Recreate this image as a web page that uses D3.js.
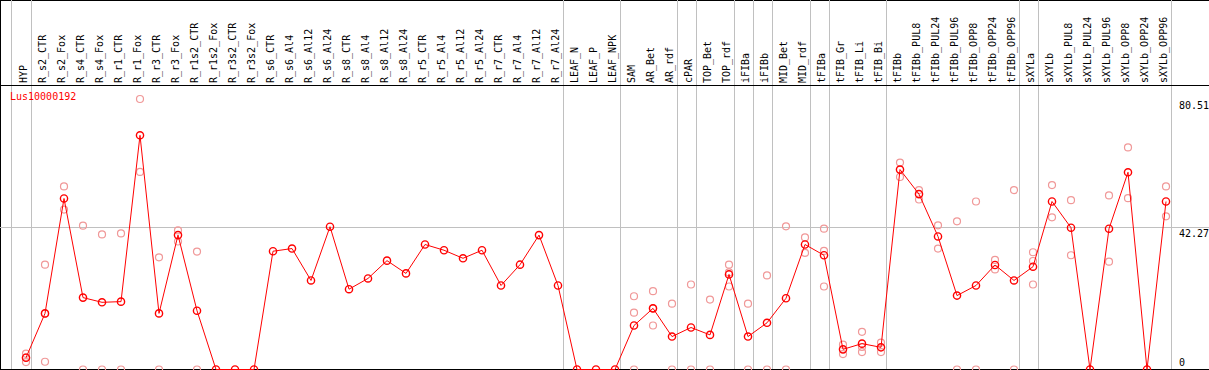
<!DOCTYPE html>
<html><head><meta charset="utf-8">
<script src="https://cdn.jsdelivr.net/npm/d3@7/dist/d3.min.js"></script>
<style>body{margin:0;background:#fff}svg{display:block}</style>
</head><body>
<script>
const categories = ["HYP","R_s2_CTR","R_s2_Fox","R_s4_CTR","R_s4_Fox","R_r1_CTR","R_r1_Fox","R_r3_CTR","R_r3_Fox","R_r1s2_CTR","R_r1s2_Fox","R_r3s2_CTR","R_r3s2_Fox","R_s6_CTR","R_s6_Al4","R_s6_Al12","R_s6_Al24","R_s8_CTR","R_s8_Al4","R_s8_Al12","R_s8_Al24","R_r5_CTR","R_r5_Al4","R_r5_Al12","R_r5_Al24","R_r7_CTR","R_r7_Al4","R_r7_Al12","R_r7_Al24","LEAF_N","LEAF_P","LEAF_NPK","SAM","AR_Bet","AR_rdf","cPAR","TOP_Bet","TOP_rdf","iFIBa","iFIBb","MID_Bet","MID_rdf","tFIBa","tFIB_Gr","tFIB_Li","tFIB_Bi","tFIBb","tFIBb_PUL8","tFIBb_PUL24","tFIBb_PUL96","tFIBb_OPP8","tFIBb_OPP24","tFIBb_OPP96","sXYLa","sXYLb","sXYLb_PUL8","sXYLb_PUL24","sXYLb_PUL96","sXYLb_OPP8","sXYLb_OPP24","sXYLb_OPP96"];
// group index per category (separators drawn between groups)
const groups = [0,1,1,1,1,1,1,1,1,1,1,1,1,1,1,1,1,1,1,1,1,1,1,1,1,1,1,1,1,2,2,2,3,3,3,4,5,5,6,7,8,8,9,10,10,10,11,11,11,11,11,11,11,12,13,13,13,13,13,13,13];
const means = [3.5,16.7,50.9,21.4,20.0,20.2,69.7,16.7,40.0,17.5,0,0,0,35.2,36.0,26.5,42.5,23.9,27.1,32.4,28.6,37.2,35.5,33.1,35.5,25.0,31.2,40.0,25.0,0,0,0,13.1,18.2,9.8,12.5,10.3,28.3,9.8,13.9,21.2,37.2,34.0,6.0,7.7,6.6,59.5,52.2,39.6,22.0,25.0,31.1,26.5,30.6,50.0,42.2,0,41.9,58.7,0,50.0];
const rep1 = [4.7,31.2,54.5,42.8,40.2,40.5,80.51,33.4,41.4,35.1,null,null,null,null,null,null,null,null,null,null,null,null,null,null,null,null,null,null,null,null,null,null,21.8,23.3,19.6,25.3,20.8,31.2,19.6,28.0,42.6,39.3,41.9,7.4,11.2,8.0,61.6,53.4,42.9,44.1,50.0,32.6,53.4,34.9,54.9,50.4,null,51.8,66.1,null,54.5];
const rep2 = [3.6,16.6,47.6,0,0,0,58.8,0,38.1,0,null,null,null,null,null,null,null,null,null,null,null,null,null,null,null,null,null,null,null,null,null,null,16.9,18.2,0,0,0,28.9,0,0,0,34.7,35.3,4.6,6.7,5.2,57.3,50.6,36.0,0,0,29.8,0,32.3,45.3,34.0,null,32.1,51.0,null,45.6];
const rep3 = [2.2,2.3,null,null,null,null,null,null,null,null,null,null,null,null,null,null,null,null,null,null,null,null,null,null,null,null,null,null,null,null,null,null,0,13.1,null,null,null,24.7,null,null,null,null,24.7,null,5.2,null,null,null,null,null,null,null,null,25.3,null,null,null,null,null,null,null];
const tickValues = [80.51, 42.27, 0];
const geneName = "Lus10000192";

const W = 1209, H = 370;
const svg = d3.select("body").append("svg").attr("width", W).attr("height", H);
const font = "'DejaVu Sans Mono', monospace";

const x = d3.scalePoint().domain(categories).range([26, 1166]);
const y = d3.scaleLinear().domain([0, 80.51]).range([369.5, 99]);

// frame
svg.append("line").attr("x1",0).attr("x2",W).attr("y1",0.5).attr("y2",0.5).attr("stroke","#000");
svg.append("line").attr("x1",0.5).attr("x2",0.5).attr("y1",0).attr("y2",H).attr("stroke","#000");

// horizontal gray reference line
svg.append("line").attr("x1",0).attr("x2",W).attr("y1",Math.round(y(42.27))+0.5).attr("y2",Math.round(y(42.27))+0.5).attr("stroke","#c0c0c0");

// vertical group separators
const sepX = [x(categories[0]) - 15.5];
categories.forEach((c,i)=>{ if (i===categories.length-1 || groups[i]!==groups[i+1]) sepX.push(x(c)+4.7); });
svg.selectAll("line.sep").data(sepX).enter().append("line").attr("class","sep")
  .attr("x1",d=>Math.round(d)+0.5).attr("x2",d=>Math.round(d)+0.5).attr("y1",0).attr("y2",H)
  .attr("stroke","#c0c0c0");

// header bottom line
svg.append("line").attr("x1",0).attr("x2",W).attr("y1",85.5).attr("y2",85.5).attr("stroke","#000");
// bottom line
svg.append("line").attr("x1",0).attr("x2",W).attr("y1",369.5).attr("y2",369.5).attr("stroke","#000");

// header labels
svg.selectAll("text.cat").data(categories).enter().append("text").attr("class","cat")
  .attr("transform",d=>`translate(${x(d)+1},83) rotate(-90)`)
  .attr("font-family",font).attr("font-size",10).attr("fill","#000").text(d=>d);

// gene name
svg.append("text").attr("x",10).attr("y",100).attr("font-family",font).attr("font-size",10)
  .attr("fill","#ff0000").text(geneName);

// right tick labels
svg.selectAll("text.tick").data(tickValues).enter().append("text").attr("class","tick")
  .attr("x",1179).attr("y",d=>Math.min(y(d)+10, H-4))
  .attr("font-family",font).attr("font-size",10).attr("fill","#000").text(d=>d);

// replicates
const reps = [];
[rep1,rep2,rep3].forEach(arr=>arr.forEach((v,i)=>{ if (v!==null) reps.push({c:categories[i], v}); }));
svg.selectAll("circle.rep").data(reps).enter().append("circle").attr("class","rep")
  .attr("cx",d=>x(d.c)).attr("cy",d=>y(d.v)).attr("r",3.5)
  .attr("fill","none").attr("stroke","#f09898").attr("stroke-width",1.2);

// mean line
const line = d3.line().x((d,i)=>x(categories[i])).y(d=>y(d));
svg.append("path").datum(means).attr("d",line).attr("fill","none").attr("stroke","#ff0000").attr("stroke-width",1);

// mean points
svg.selectAll("circle.mean").data(means).enter().append("circle").attr("class","mean")
  .attr("cx",(d,i)=>x(categories[i])).attr("cy",d=>y(d)).attr("r",3.6)
  .attr("fill","none").attr("stroke","#ff0000").attr("stroke-width",1.4);
</script>
</body></html>
